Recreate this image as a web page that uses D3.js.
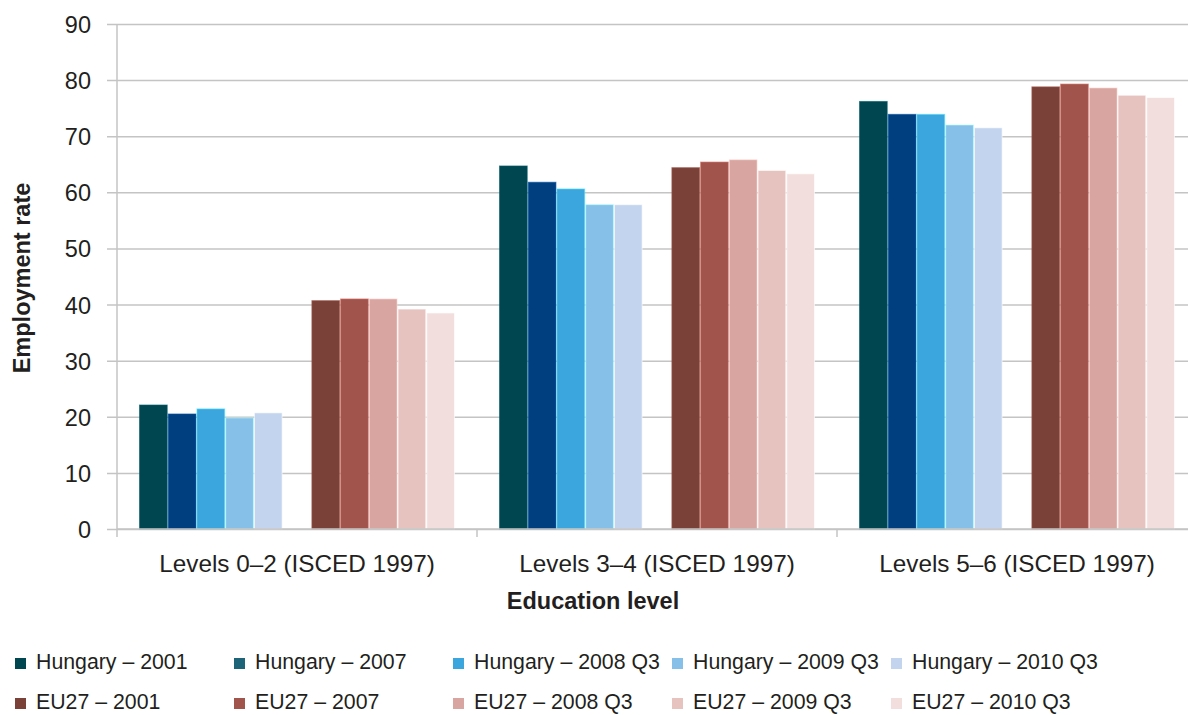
<!DOCTYPE html>
<html>
<head>
<meta charset="utf-8">
<script src="https://cdn.jsdelivr.net/npm/d3@7"></script>
<style>
  html, body { margin: 0; padding: 0; background: #fff; }
  svg { display: block; font-family: "Liberation Sans", Arial, Helvetica, sans-serif; }
</style>
</head>
<body>
<svg id="chart" width="1188" height="715"></svg>
<script>
// Employment rate by education level, Hungary vs EU27
const categories = [
  "Levels 0\u20132 (ISCED 1997)",
  "Levels 3\u20134 (ISCED 1997)",
  "Levels 5\u20136 (ISCED 1997)"
];

const hungaryLabels = ["Hungary \u2013 2001", "Hungary \u2013 2007", "Hungary \u2013 2008 Q3", "Hungary \u2013 2009 Q3", "Hungary \u2013 2010 Q3"];
const eu27Labels    = ["EU27 \u2013 2001", "EU27 \u2013 2007", "EU27 \u2013 2008 Q3", "EU27 \u2013 2009 Q3", "EU27 \u2013 2010 Q3"];

// one value per education level, in category order
const hungary2001   = [22.1, 64.7, 76.2];
const hungary2007   = [20.5, 61.8, 73.9];
const hungary2008q3 = [21.4, 60.6, 73.9];
const hungary2009q3 = [19.8, 57.8, 72.0];
const hungary2010q3 = [20.7, 57.8, 71.5];

const eu2001   = [40.7, 64.4, 78.8];
const eu2007   = [41.0, 65.4, 79.3];
const eu2008q3 = [41.0, 65.8, 78.6];
const eu2009q3 = [39.2, 63.9, 77.3];
const eu2010q3 = [38.5, 63.3, 76.9];

const yTicks = [0, 10, 20, 30, 40, 50, 60, 70, 80, 90];

const hungaryColors = ["#004650", "#003f7f", "#3aa6dd", "#86c0e8", "#c3d5ee"];
const hungarySwatch = ["#004650", "#1e6478", "#3aa6dd", "#86c0e8", "#c3d5ee"];
const eu27Colors    = ["#7a4138", "#a0544c", "#d8a5a0", "#e7c3bf", "#f2dfdd"];

const series = [
  { name: hungaryLabels[0], values: hungary2001,   color: hungaryColors[0], swatch: hungarySwatch[0], slot: 0 },
  { name: hungaryLabels[1], values: hungary2007,   color: hungaryColors[1], swatch: hungarySwatch[1], slot: 1 },
  { name: hungaryLabels[2], values: hungary2008q3, color: hungaryColors[2], swatch: hungarySwatch[2], slot: 2 },
  { name: hungaryLabels[3], values: hungary2009q3, color: hungaryColors[3], swatch: hungarySwatch[3], slot: 3 },
  { name: hungaryLabels[4], values: hungary2010q3, color: hungaryColors[4], swatch: hungarySwatch[4], slot: 4 },
  { name: eu27Labels[0], values: eu2001,   color: eu27Colors[0], swatch: eu27Colors[0], slot: 6 },
  { name: eu27Labels[1], values: eu2007,   color: eu27Colors[1], swatch: eu27Colors[1], slot: 7 },
  { name: eu27Labels[2], values: eu2008q3, color: eu27Colors[2], swatch: eu27Colors[2], slot: 8 },
  { name: eu27Labels[3], values: eu2009q3, color: eu27Colors[3], swatch: eu27Colors[3], slot: 9 },
  { name: eu27Labels[4], values: eu2010q3, color: eu27Colors[4], swatch: eu27Colors[4], slot: 10 }
];

const textColor = "#231f20";
const gridColor = "#c4c4c4";

const svg = d3.select("#chart");
const plot = { left: 117, right: 1197, top: 24, bottom: 529 };

const x0 = d3.scaleBand().domain(categories).range([plot.left, plot.right]).padding(0);
const x1 = d3.scaleBand().domain(d3.range(11)).range([22, x0.bandwidth() - 22]).padding(0);
const y = d3.scaleLinear().domain([0, 90]).range([plot.bottom, plot.top]);

// horizontal gridlines with short ticks to the left of the axis
const yAxis = d3.axisLeft(y)
  .tickValues(yTicks)
  .tickSize(-(1188 - plot.left))
  .tickPadding(26);

const gy = svg.append("g")
  .attr("transform", `translate(${plot.left},0)`)
  .call(yAxis);
gy.select(".domain").remove();
gy.selectAll(".tick line")
  .attr("x1", -10)
  .attr("stroke", gridColor)
  .attr("stroke-width", 1.5);
gy.selectAll(".tick text")
  .attr("fill", textColor)
  .attr("font-size", 23.5)
  .attr("dy", "0.36em");

// vertical axis line
svg.append("line")
  .attr("x1", plot.left).attr("x2", plot.left)
  .attr("y1", plot.top).attr("y2", plot.bottom)
  .attr("stroke", gridColor).attr("stroke-width", 1.5);

// bars
const groups = svg.append("g").selectAll("g")
  .data(categories)
  .join("g")
  .attr("transform", d => `translate(${x0(d)},0)`);

groups.selectAll("rect")
  .data((c, i) => series.map(s => ({ s, v: s.values[i] })))
  .join("rect")
  .attr("x", d => x1(d.s.slot) + 0.5)
  .attr("width", x1.bandwidth() - 1)
  .attr("y", d => y(d.v))
  .attr("height", d => y(0) - y(d.v))
  .attr("fill", d => d.s.color)
  .attr("stroke", d => d3.color(d.s.color).brighter(0.8).formatHex())
  .attr("stroke-opacity", 0.6)
  .attr("stroke-width", 1);

// x axis
const xAxis = d3.axisBottom(x0).tickSize(0).tickPadding(28);
const gx = svg.append("g")
  .attr("transform", `translate(0,${plot.bottom})`)
  .call(xAxis);
gx.select(".domain").remove();
gx.selectAll(".tick text")
  .attr("fill", textColor)
  .attr("font-size", 24.3)
  .attr("dy", "0.6em");

svg.append("line")
  .attr("x1", plot.left).attr("x2", 1188)
  .attr("y1", plot.bottom).attr("y2", plot.bottom)
  .attr("stroke", gridColor).attr("stroke-width", 1.5);

// category separators
svg.append("g").selectAll("line")
  .data(categories)
  .join("line")
  .attr("x1", d => x0(d)).attr("x2", d => x0(d))
  .attr("y1", plot.bottom).attr("y2", plot.bottom + 8)
  .attr("stroke", gridColor).attr("stroke-width", 1.5);

// axis titles
svg.append("text")
  .attr("x", 593)
  .attr("y", 609)
  .attr("text-anchor", "middle")
  .attr("font-size", 23.5)
  .attr("font-weight", "bold")
  .attr("fill", textColor)
  .text("Education level");

svg.append("text")
  .attr("transform", "translate(30,278) rotate(-90)")
  .attr("text-anchor", "middle")
  .attr("font-size", 23.5)
  .attr("font-weight", "bold")
  .attr("fill", textColor)
  .text("Employment rate");

// legend: Hungary row, then EU27 row
const legendX = d3.scalePoint().domain(d3.range(5)).range([15, 891]);
const legendRows = [series.slice(0, 5), series.slice(5)];
const rowY = [669, 709];

legendRows.forEach((row, r) => {
  const items = svg.append("g").selectAll("g")
    .data(row)
    .join("g")
    .attr("transform", (d, i) => `translate(${legendX(i)},${rowY[r]})`);
  items.append("rect")
    .attr("x", 0).attr("y", -11)
    .attr("width", 11).attr("height", 11)
    .attr("fill", d => d.swatch);
  items.append("text")
    .attr("x", 21)
    .attr("font-size", 21.3)
    .attr("fill", textColor)
    .text(d => d.name);
});
</script>
</body>
</html>
